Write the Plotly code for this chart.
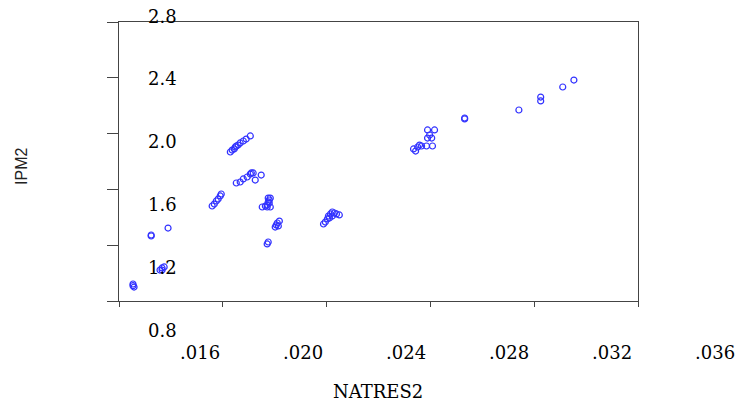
import plotly.graph_objects as go

# Data
natres2 = [
    0.01254, 0.01258, 0.01254,
    0.01324, 0.01324, 0.01389,
    0.01358, 0.01366, 0.01374, 0.01366,
    0.01629, 0.01636, 0.01644, 0.01648, 0.01652, 0.01659, 0.01667, 0.01679, 0.01690, 0.01706,
    0.01652, 0.01667, 0.01679, 0.01694, 0.01706, 0.01717, 0.01725, 0.01748, 0.01710,
    0.01559, 0.01567, 0.01575, 0.01582, 0.01590, 0.01594,
    0.01752, 0.01764, 0.01771, 0.01775, 0.01779, 0.01775, 0.01783, 0.01771, 0.01783, 0.01779,
    0.01802, 0.01806, 0.01810, 0.01818, 0.01814,
    0.01771, 0.01775,
    0.01988, 0.01995, 0.02003, 0.02007, 0.02015, 0.02022, 0.02030, 0.02038, 0.02049, 0.02011, 0.02022,
    0.02335, 0.02343, 0.02351, 0.02358, 0.02366, 0.02385, 0.02408, 0.02389, 0.02405, 0.02397, 0.02389, 0.02416,
    0.02532, 0.02532, 0.02741, 0.02825, 0.02825, 0.02910, 0.02953,
]
ipm2 = [
    0.922, 0.900, 0.910,
    1.273, 1.266, 1.323,
    1.022, 1.037, 1.044, 1.022,
    1.868, 1.882, 1.890, 1.904, 1.911, 1.918, 1.933, 1.947, 1.961, 1.983,
    1.646, 1.653, 1.675, 1.689, 1.710, 1.718, 1.667, 1.703, 1.718,
    1.481, 1.495, 1.517, 1.531, 1.553, 1.567,
    1.474, 1.481, 1.488, 1.510, 1.524, 1.538, 1.538, 1.474, 1.474, 1.502,
    1.330, 1.345, 1.359, 1.373, 1.338,
    1.209, 1.223,
    1.352, 1.366, 1.388, 1.409, 1.424, 1.438, 1.431, 1.424, 1.417, 1.395, 1.409,
    1.890, 1.875, 1.904, 1.918, 1.911, 1.911, 1.911, 1.968, 1.968, 1.990, 2.026, 2.026,
    2.112, 2.105, 2.169, 2.262, 2.234, 2.334, 2.384,
]

x_ticks = [0.012, 0.016, 0.020, 0.024, 0.028, 0.032]
y_ticks = [0.8, 1.2, 1.6, 2.0, 2.4, 2.8]
x_tick_labels = [".016", ".020", ".024", ".028", ".032", ".036"]
y_tick_labels = ["2.8", "2.4", "2.0", "1.6", "1.2", "0.8"]

fig = go.Figure()
fig.add_trace(go.Scatter(
    x=natres2, y=ipm2, mode="markers",
    marker=dict(symbol="circle-open", size=6, color="rgb(50,50,255)",
                line=dict(width=1.2, color="rgb(50,50,255)")),
    showlegend=False, hoverinfo="x+y",
))

axis_common = dict(showgrid=False, zeroline=False, showline=True, mirror=True,
                   linecolor="#444", linewidth=1, ticks="outside", tickcolor="#444",
                   tickwidth=1, showticklabels=False)
fig.update_xaxes(range=[x_ticks[0], x_ticks[-1]], tickvals=x_ticks, ticklen=5, **axis_common)
fig.update_yaxes(range=[y_ticks[0], y_ticks[-1]], tickvals=y_ticks, ticklen=11, **axis_common)

label_font = dict(family="DejaVu Serif, Liberation Serif, serif", size=18, color="black")
annotations = []
# x labels (drawn offset from the tick marks, as in the reference)
for i, t in enumerate(x_tick_labels):
    annotations.append(dict(text=t, x=0.156 + i * 0.1985, y=-0.184, xref="paper", yref="paper",
                            xanchor="center", yanchor="middle", showarrow=False, font=label_font))
# y labels (drawn on their own spacing inside the box)
for i, t in enumerate(y_tick_labels):
    annotations.append(dict(text=t, x=0.083, y=1.0215 - i * 0.2258, xref="paper", yref="paper",
                            xanchor="center", yanchor="middle", showarrow=False, font=label_font))
annotations.append(dict(text="NATRES2", x=0.499, y=-0.326, xref="paper", yref="paper",
                        xanchor="center", yanchor="middle", showarrow=False,
                        font=dict(family="DejaVu Serif, Liberation Serif, serif", size=18, color="black")))
annotations.append(dict(text="IPM2", x=-0.187, y=0.484, xref="paper", yref="paper",
                        xanchor="center", yanchor="middle", showarrow=False, textangle=-90,
                        font=dict(family="Liberation Sans Narrow, Liberation Sans, sans-serif",
                                  size=16, color="#222")))

fig.update_layout(
    width=746, height=405,
    margin=dict(l=119, r=108, t=22, b=104),
    paper_bgcolor="white", plot_bgcolor="white",
    annotations=annotations,
)

fig.write_html("out.html", config={"displayModeBar": False},
               post_script="document.body.style.margin='0';document.body.style.overflow='hidden';")
